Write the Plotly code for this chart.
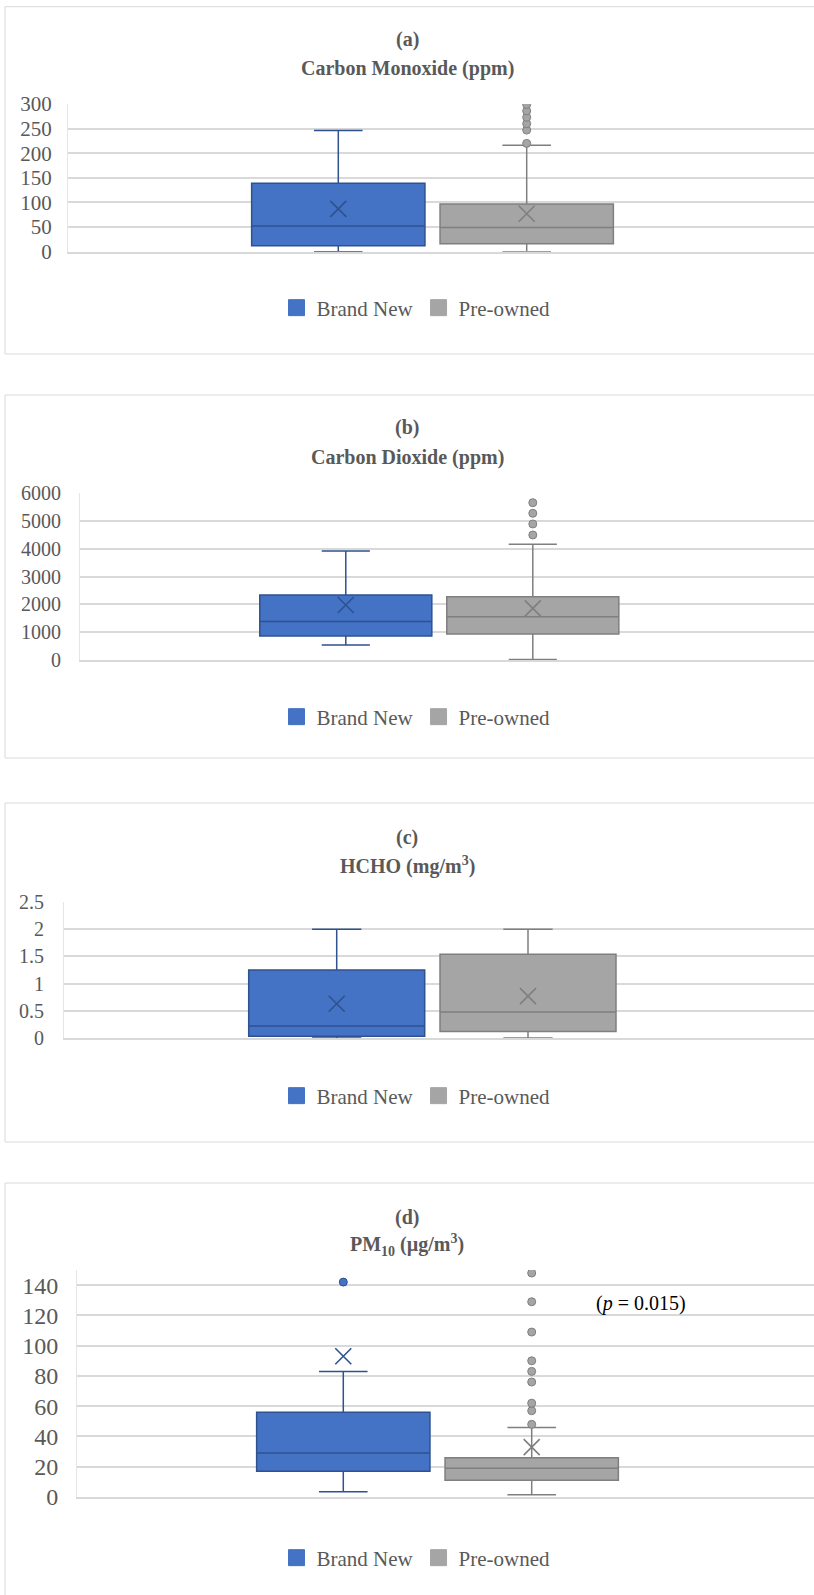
import plotly.graph_objects as go

W, H = 814, 1595

groups = ["Brand New", "Pre-owned"]

# ---------------- data ----------------
# (a) Carbon Monoxide (ppm)
co_lower = [0, 0]
co_q1 = [12, 16]
co_median = [52, 49]
co_q3 = [139, 97]
co_upper = [246, 216]
co_mean = [87, 77]
co_out_new = []
co_out_pre = [220, 247, 260, 273, 286, 299]
co_ticks = [0, 50, 100, 150, 200, 250, 300]

# (b) Carbon Dioxide (ppm)
co2_lower = [540, 20]
co2_q1 = [864, 934]
co2_median = [1380, 1557]
co2_q3 = [2338, 2275]
co2_upper = [3920, 4157]
co2_mean = [1978, 1857]
co2_out_new = []
co2_out_pre = [4492, 4887, 5271, 5652]
co2_ticks = [0, 1000, 2000, 3000, 4000, 5000, 6000]

# (c) HCHO (mg/m3)
hcho_lower = [0, 0]
hcho_q1 = [0.03, 0.12]
hcho_median = [0.22, 0.48]
hcho_q3 = [1.25, 1.54]
hcho_upper = [2.0, 2.0]
hcho_mean = [0.63, 0.77]
hcho_out_new = []
hcho_out_pre = []
hcho_ticks = [0, 0.5, 1, 1.5, 2, 2.5]

# (d) PM10 (ug/m3)
pm_lower = [3.5, 1.5]
pm_q1 = [17, 11]
pm_median = [29, 19]
pm_q3 = [56, 26]
pm_upper = [83, 46]
pm_mean = [93, 33]
pm_out_new = [142]
pm_out_pre = [48, 57, 62, 76, 83, 90, 109, 129, 148]
pm_ticks = [0, 20, 40, 60, 80, 100, 120, 140]

panels = [
    dict(tag="(a)", title="Carbon Monoxide (ppm)", lower=co_lower, q1=co_q1, median=co_median,
         q3=co_q3, upper=co_upper, mean=co_mean, out=[co_out_new, co_out_pre], ticks=co_ticks,
         yrange=[0, 300]),
    dict(tag="(b)", title="Carbon Dioxide (ppm)", lower=co2_lower, q1=co2_q1, median=co2_median,
         q3=co2_q3, upper=co2_upper, mean=co2_mean, out=[co2_out_new, co2_out_pre], ticks=co2_ticks,
         yrange=[0, 6000]),
    dict(tag="(c)", title="HCHO (mg/m<sup>3</sup>)", lower=hcho_lower, q1=hcho_q1, median=hcho_median,
         q3=hcho_q3, upper=hcho_upper, mean=hcho_mean, out=[hcho_out_new, hcho_out_pre], ticks=hcho_ticks,
         yrange=[0, 2.5]),
    dict(tag="(d)", title="PM<sub>10</sub> (µg/m<sup>3</sup>)", lower=pm_lower, q1=pm_q1, median=pm_median,
         q3=pm_q3, upper=pm_upper, mean=pm_mean, out=[pm_out_new, pm_out_pre], ticks=pm_ticks,
         yrange=[0, 150]),
]

# ---------------- layout geometry (pixels) ----------------
geo = [
    dict(left=68, top=104, bottom=251.7, cb=338.3, cg=526.7, tag_y=39, title_y=68, legend_y=308,
         frame=(6.7, 354), tfont=21, standoff=11),
    dict(left=80, top=493, bottom=660, cb=345.8, cg=532.8, tag_y=427, title_y=457, legend_y=717,
         frame=(395, 758), tfont=20, standoff=14),
    dict(left=64, top=902, bottom=1038, cb=336.7, cg=528.0, tag_y=837, title_y=865, legend_y=1096,
         frame=(803, 1142), tfont=20, standoff=15),
    dict(left=77, top=1270, bottom=1497, cb=343.3, cg=531.7, tag_y=1217, title_y=1245, legend_y=1558,
         frame=(1183, 1610), tfont=24, standoff=13),
]

fills = ["#4472C4", "#A5A5A5"]
lines = ["#2F528F", "#7F7F7F"]
TXT = "#595959"
GRID = "#D9D9D9"
FONT = "Liberation Serif"

fig = go.Figure()
layout = dict(
    width=W, height=H, margin=dict(l=0, r=0, t=0, b=0, autoexpand=False),
    paper_bgcolor="white", plot_bgcolor="white",
    font=dict(family=FONT, color=TXT),
    showlegend=True, boxmode="overlay",
)
annotations = []
shapes = []

for k, (p, g) in enumerate(zip(panels, geo), start=1):
    xa = "x" if k == 1 else f"x{k}"
    ya = "y" if k == 1 else f"y{k}"
    lg = "legend" if k == 1 else f"legend{k}"
    d = g["cg"] - g["cb"]
    xr = [(g["left"] - g["cb"]) / d, (W - g["cb"]) / d]

    for i in range(2):
        fig.add_trace(go.Box(
            x=[i], q1=[p["q1"][i]], median=[p["median"][i]], q3=[p["q3"][i]],
            lowerfence=[p["lower"][i]], upperfence=[p["upper"][i]],
            width=0.92, whiskerwidth=0.28, fillcolor=fills[i],
            line=dict(color=lines[i], width=1.5), boxpoints=False,
            name=groups[i], showlegend=False, xaxis=xa, yaxis=ya,
        ))
        fig.add_trace(go.Scatter(
            x=[i], y=[p["mean"][i]], mode="markers", showlegend=False,
            marker=dict(symbol="x-thin", size=16, color=lines[i],
                        line=dict(width=1.6, color=lines[i])),
            xaxis=xa, yaxis=ya,
        ))
        if p["out"][i]:
            fig.add_trace(go.Scatter(
                x=[i] * len(p["out"][i]), y=p["out"][i], mode="markers", showlegend=False,
                marker=dict(symbol="circle", size=8, color=fills[i],
                            line=dict(width=1, color=lines[i])),
                xaxis=xa, yaxis=ya,
            ))
        # legend entry
        fig.add_trace(go.Scatter(
            x=[None], y=[None], mode="markers", name=groups[i], legend=lg,
            marker=dict(symbol="square", size=20, color=fills[i], line=dict(width=1, color=fills[i])),
            xaxis=xa, yaxis=ya,
        ))

    layout["xaxis" if k == 1 else f"xaxis{k}"] = dict(
        domain=[g["left"] / W, 1], range=xr, showticklabels=False, showgrid=False,
        zeroline=False, showline=True, linecolor=GRID, linewidth=1.5, ticks="",
        anchor=ya, fixedrange=True, automargin=False,
    )
    layout["yaxis" if k == 1 else f"yaxis{k}"] = dict(
        domain=[1 - g["bottom"] / H, 1 - g["top"] / H], range=p["yrange"],
        tickvals=p["ticks"], showgrid=True, gridcolor=GRID, gridwidth=1.5,
        zeroline=False, showline=True, linecolor="#E6E6E6", linewidth=1,
        ticks="", ticklabelstandoff=g["standoff"],
        tickfont=dict(family=FONT, size=g["tfont"], color=TXT),
        anchor=xa, fixedrange=True, automargin=False,
    )
    layout[lg] = dict(
        orientation="h", x=416 / W, xanchor="center", y=1 - g["legend_y"] / H,
        yanchor="middle", bgcolor="rgba(0,0,0,0)",
        font=dict(family=FONT, size=21, color=TXT), itemsizing="trace",
    )
    annotations.append(dict(
        text=f"<b>{p['tag']}</b>", xref="paper", yref="paper", x=0.5, y=1 - g["tag_y"] / H,
        xanchor="center", yanchor="middle", showarrow=False,
        font=dict(family=FONT, size=20, color=TXT),
    ))
    annotations.append(dict(
        text=f"<b>{p['title']}</b>", xref="paper", yref="paper", x=0.5, y=1 - g["title_y"] / H,
        xanchor="center", yanchor="middle", showarrow=False,
        font=dict(family=FONT, size=20, color=TXT),
    ))
    y0, y1 = g["frame"]
    shapes.append(dict(
        type="rect", xref="paper", yref="paper", x0=5 / W, x1=1.01,
        y0=1 - y1 / H, y1=1 - y0 / H, line=dict(color=GRID, width=1), layer="below",
    ))

annotations.append(dict(
    text="(<i>p</i> = 0.015)", xref="paper", yref="paper", x=641 / W, y=1 - 1303 / H,
    xanchor="center", yanchor="middle", showarrow=False,
    font=dict(family=FONT, size=20, color="black"),
))

layout["annotations"] = annotations
layout["shapes"] = shapes
fig.update_layout(**layout)
fig.write_html(
    "out.html",
    config={"displayModeBar": False},
    post_script=(
        "document.documentElement.style.margin='0';"
        "document.body.style.margin='0';document.body.style.padding='0';"
        "document.documentElement.style.overflow='hidden';document.body.style.overflow='hidden';"
        "var gd=document.getElementById('{plot_id}');"
        "gd.style.position='fixed';gd.style.top='0px';gd.style.left='0px';"
    ),
)
